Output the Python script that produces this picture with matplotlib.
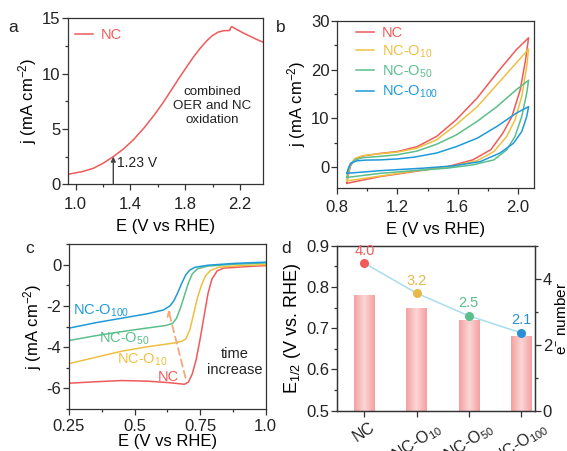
import numpy as np
import matplotlib
matplotlib.use("Agg")
import matplotlib.pyplot as plt
from matplotlib.colors import LinearSegmentedColormap
from matplotlib.ticker import MultipleLocator

plt.rcParams['font.family'] = ['Liberation Sans', 'DejaVu Sans']
plt.rcParams['axes.unicode_minus'] = False
plt.rcParams['mathtext.fontset'] = 'custom'
plt.rcParams['mathtext.rm'] = 'Liberation Sans'

RED = '#F05A5A'
YELLOW = '#EEC042'
GREEN = '#5BBE8C'
BLUE = '#1E9AD9'
AXC = '#333333'

# ---- panel a: LSV of NC (OER region) ----
a_E = [0.944, 1.05, 1.13, 1.2, 1.275, 1.35, 1.42, 1.5, 1.57, 1.64, 1.69, 1.75,
       1.81, 1.86, 1.91, 1.96, 2.0, 2.04, 2.08, 2.125, 2.13, 2.14, 2.175, 2.22,
       2.27, 2.32, 2.368]
a_j = [0.9, 1.15, 1.45, 1.9, 2.5, 3.2, 4.0, 5.1, 6.2, 7.4, 8.35, 9.5,
       10.6, 11.5, 12.3, 13.0, 13.45, 13.75, 13.88, 13.9, 14.1, 14.25, 14.0, 13.7,
       13.4, 13.1, 12.85]
a_mark_E = 1.275
a_mark_j = 2.5

# ---- panel b: CV loops (forward / reverse branches) ----
b_labels = ['NC', r'NC-O$\mathregular{_{10}}$', r'NC-O$\mathregular{_{50}}$',
            r'NC-O$\mathregular{_{100}}$']
b_fwd_E = [
    [0.865, 0.875, 0.89, 0.92, 0.97, 1.08, 1.2, 1.33, 1.46, 1.59, 1.73, 1.86, 1.99, 2.07],
    [0.865, 0.875, 0.89, 0.92, 0.97, 1.08, 1.2, 1.33, 1.46, 1.59, 1.73, 1.86, 1.99, 2.07],
    [0.865, 0.875, 0.89, 0.92, 0.97, 1.08, 1.2, 1.33, 1.46, 1.59, 1.73, 1.86, 1.99, 2.07],
    [0.865, 0.875, 0.89, 0.93, 0.99, 1.09, 1.2, 1.31, 1.46, 1.59, 1.73, 1.86, 1.99, 2.07],
]
b_fwd_j = [
    [-3.3, -1.5, 0.3, 1.7, 2.3, 2.8, 3.2, 4.2, 6.3, 9.7, 14.2, 19.3, 24.1, 26.5],
    [-2.8, -1.0, 0.6, 1.8, 2.35, 2.75, 3.1, 3.9, 5.6, 8.7, 12.4, 16.9, 21.4, 24.2],
    [-2.1, -0.6, 0.7, 1.5, 1.95, 2.2, 2.55, 3.3, 4.7, 6.6, 9.4, 12.4, 15.9, 17.8],
    [-1.25, -0.2, 0.8, 1.3, 1.45, 1.5, 1.7, 2.05, 2.9, 4.2, 5.95, 8.35, 11.1, 12.4],
]
b_rev_E = [
    [2.07, 2.05, 2.015, 1.96, 1.9, 1.82, 1.7, 1.53, 1.31, 1.09, 0.865],
    [2.07, 2.058, 2.025, 1.98, 1.925, 1.84, 1.73, 1.55, 1.31, 1.09, 0.865],
    [2.07, 2.058, 2.025, 1.98, 1.925, 1.84, 1.70, 1.53, 1.31, 1.09, 0.865],
    [2.07, 2.058, 2.025, 1.97, 1.88, 1.75, 1.57, 1.37, 1.09, 0.865],
]
b_rev_j = [
    [26.5, 22.0, 15.9, 10.4, 7.0, 3.6, 1.5, 0.1, -0.9, -1.9, -3.3],
    [24.2, 20.7, 14.5, 9.7, 6.3, 3.2, 1.35, 0.1, -0.8, -1.8, -2.8],
    [17.8, 15.2, 10.4, 6.3, 3.55, 1.5, 0.47, -0.2, -0.7, -1.25, -2.1],
    [12.4, 10.4, 7.3, 4.9, 2.9, 1.15, 0.27, -0.2, -0.7, -1.25],
]

# ---- panel c: ORR LSV ----
c_E = {
    'NC': [0.25, 0.35, 0.45, 0.55, 0.63, 0.69, 0.705, 0.72, 0.735, 0.75, 0.765,
           0.78, 0.795, 0.815, 0.84, 0.9, 0.95, 1.0],
    'O10': [0.25, 0.35, 0.45, 0.55, 0.65, 0.68, 0.695, 0.71, 0.725, 0.74, 0.755,
            0.77, 0.79, 0.82, 0.9, 1.0],
    'O50': [0.25, 0.35, 0.45, 0.55, 0.62, 0.645, 0.66, 0.675, 0.69, 0.705, 0.72,
            0.74, 0.78, 0.88, 1.0],
    'O100': [0.25, 0.35, 0.45, 0.55, 0.61, 0.635, 0.65, 0.665, 0.68, 0.695, 0.71,
             0.73, 0.78, 0.88, 1.0],
}
c_j = {
    'NC': [-5.75, -5.68, -5.62, -5.65, -5.72, -5.8, -5.7, -5.3, -4.6, -3.6, -2.5,
           -1.4, -0.7, -0.3, -0.17, -0.12, -0.08, -0.05],
    'O10': [-4.8, -4.5, -4.2, -3.98, -3.8, -3.72, -3.6, -3.2, -2.4, -1.6, -1.0,
            -0.55, -0.28, -0.13, -0.05, 0.0],
    'O50': [-3.68, -3.45, -3.25, -3.07, -2.95, -2.85, -2.6, -2.1, -1.5, -0.9, -0.45,
            -0.2, -0.07, 0.02, 0.08],
    'O100': [-3.08, -2.82, -2.6, -2.38, -2.2, -2.0, -1.75, -1.35, -0.9, -0.5, -0.27,
             -0.13, -0.03, 0.06, 0.12],
}

# ---- panel d: half-wave potential and electron number ----
d_samples = ['NC', r'NC-O$\mathregular{_{10}}$', r'NC-O$\mathregular{_{50}}$',
             r'NC-O$\mathregular{_{100}}$']
d_E12 = [0.78, 0.75, 0.72, 0.68]
d_n_pos = [4.47, 3.56, 2.875, 2.36]   # marker heights on the right axis
d_n_text = ['4.0', '3.2', '2.5', '2.1']
d_colors = [RED, '#E9B84A', GREEN, '#2A8FD6']

TICK_FS = 12
LABEL_FS = 12


def style_axes(ax, xpad=5):
    for s in ax.spines.values():
        s.set_color(AXC)
        s.set_linewidth(0.9)
    ax.tick_params(which='both', direction='out', color=AXC, width=0.9,
                   labelsize=TICK_FS, labelcolor='#222222')
    ax.tick_params(which='major', length=4)
    ax.tick_params(which='minor', length=2)
    ax.tick_params(axis='x', pad=xpad)
    ax.tick_params(axis='y', pad=1.5)


fig = plt.figure(figsize=(5.67, 4.51), dpi=100)

# panel a
ax = fig.add_axes([0.1199, 0.5914, 0.3439, 0.368])
ax.plot(a_E, a_j, color=RED, lw=1.1, label='NC')
ax.annotate('', xy=(a_mark_E, a_mark_j), xytext=(a_mark_E, 0),
            arrowprops=dict(arrowstyle='-|>', color='#444444', lw=1.0,
                            mutation_scale=7, shrinkA=0, shrinkB=0))
ax.text(1.30, 1.9, '1.23 V', fontsize=10, va='center', ha='left', color='#222222')
ax.text(2.0, 7.07, 'combined\nOER and NC\noxidation', fontsize=9.6,
        ha='center', va='center', linespacing=1.2, color='#222222')
ax.set_xlim(0.944, 2.368)
ax.set_ylim(0, 15)
ax.xaxis.set_minor_locator(MultipleLocator(0.2))
ax.yaxis.set_major_locator(MultipleLocator(5))
ax.yaxis.set_minor_locator(MultipleLocator(2.5))
ax.set_xticks([1.0, 1.4, 1.8, 2.2], ['1.0', '1.4', '1.8', '2.2'])
style_axes(ax)
ax.set_xlabel('E (V vs RHE)', fontsize=LABEL_FS, labelpad=5)
ax.set_ylabel(r'j (mA cm$\mathregular{^{-2}}$)', fontsize=LABEL_FS, labelpad=2)
ax.legend(loc='upper left', frameon=False, fontsize=10.5, handlelength=1.3,
          handletextpad=0.5, borderaxespad=0.25, bbox_to_anchor=(-0.015, 1.0),
          labelcolor='linecolor')

# panel b
ax = fig.add_axes([0.5944, 0.5838, 0.3474, 0.3703])
for k, col in enumerate([RED, YELLOW, GREEN, BLUE]):
    ax.plot(b_fwd_E[k] + b_rev_E[k][1:], b_fwd_j[k] + b_rev_j[k][1:],
            color=col, lw=1.1, label=b_labels[k])
ax.set_xlim(0.8, 2.106)
ax.set_ylim(-4.2, 30)
ax.xaxis.set_minor_locator(MultipleLocator(0.2))
ax.yaxis.set_major_locator(MultipleLocator(10))
ax.yaxis.set_minor_locator(MultipleLocator(5))
ax.set_xticks([0.8, 1.2, 1.6, 2.0], ['0.8', '1.2', '1.6', '2.0'])
style_axes(ax)
ax.set_xlabel('E (V vs RHE)', fontsize=LABEL_FS, labelpad=5)
ax.set_ylabel(r'j (mA cm$\mathregular{^{-2}}$)', fontsize=LABEL_FS, labelpad=2)
ax.legend(loc='upper left', frameon=False, fontsize=10.5, handlelength=1.25,
          handletextpad=0.5, labelspacing=0.25, borderaxespad=0.3,
          bbox_to_anchor=(0.045, 1.03), labelcolor='linecolor')

# panel c
ax = fig.add_axes([0.1217, 0.0931, 0.3469, 0.3659])
for key, col in zip(['NC', 'O10', 'O50', 'O100'], [RED, YELLOW, GREEN, BLUE]):
    ax.plot(c_E[key], c_j[key], color=col, lw=1.1)
ax.annotate('', xy=(0.626, -2.05), xytext=(0.697, -5.62),
            arrowprops=dict(arrowstyle='->', color='#F5A77A', lw=1.3,
                            linestyle=(0, (4, 2.5)), mutation_scale=9))
ax.text(0.265, -2.25, r'NC-O$\mathregular{_{100}}$', color=BLUE, fontsize=10.5,
        va='center', ha='left')
ax.text(0.364, -3.6, r'NC-O$\mathregular{_{50}}$', color=GREEN, fontsize=10.5,
        va='center', ha='left')
ax.text(0.432, -4.6, r'NC-O$\mathregular{_{10}}$', color=YELLOW, fontsize=10.5,
        va='center', ha='left')
ax.text(0.59, -5.45, 'NC', color=RED, fontsize=10.5, va='center', ha='left')
ax.text(0.883, -4.73, 'time\nincrease', color='#222222', fontsize=10.5,
        ha='center', va='center', linespacing=1.2)
ax.set_xlim(0.25, 1.0)
ax.set_ylim(-7, 1)
ax.set_xticks([0.25, 0.5, 0.75, 1.0], ['0.25', '0.5', '0.75', '1.0'])
ax.xaxis.set_minor_locator(MultipleLocator(0.125))
ax.set_yticks([0, -2, -4, -6], ['0', '-2', '-4', '-6'])
ax.yaxis.set_minor_locator(MultipleLocator(1))
style_axes(ax, xpad=3)
ax.set_xlabel('E (V vs RHE)', fontsize=LABEL_FS, labelpad=0)
ax.set_ylabel(r'j (mA cm$\mathregular{^{-2}}$)', fontsize=LABEL_FS, labelpad=2)

# panel d
ax = fig.add_axes([0.5944, 0.0894, 0.3492, 0.3659])
xpos = np.arange(len(d_samples))
bw = 0.39
bars = ax.bar(xpos, np.array(d_E12) - 0.5, bottom=0.5, width=bw,
              facecolor='none', edgecolor='none')
cmap = LinearSegmentedColormap.from_list('pinkbar', ['#F5A0A0', '#FCD6D6', '#F5A0A0'])
grad = np.linspace(0, 1, 64).reshape(1, -1)
for xi, h, rect in zip(xpos, d_E12, bars):
    im = ax.imshow(grad, cmap=cmap, aspect='auto', interpolation='bicubic',
                   extent=[xi - bw / 2, xi + bw / 2, 0.5, h], zorder=1)
    im.set_clip_path(rect)
ax.set_xlim(-0.524, 3.27)
ax.set_ylim(0.5, 0.9)
ax.yaxis.set_major_locator(MultipleLocator(0.1))
ax.yaxis.set_minor_locator(MultipleLocator(0.05))
ax.set_xticks(xpos)
ax.set_xticklabels(d_samples, rotation=33, ha='center', va='top')
style_axes(ax)
ax.tick_params(axis='x', pad=2, labelsize=11.5)
ax.tick_params(right=False, which='both')
ax.set_ylabel(r'E$\mathregular{_{1/2}}$ (V vs. RHE)', fontsize=13, labelpad=2)

ax2 = ax.twinx()
ax2.plot(xpos, d_n_pos, color='#A9DCEF', lw=1.1, zorder=2)
for xi, yv, t, col in zip(xpos, d_n_pos, d_n_text, d_colors):
    ax2.plot(xi, yv, 'o', ms=5.5, mfc=col, mec=col, zorder=3)
    ax2.annotate(t, (xi, yv), xytext=(0, 9), textcoords='offset points',
                 ha='center', va='center', color=col, fontsize=10.5)
ax2.set_ylim(0, 5)
ax2.yaxis.set_major_locator(MultipleLocator(2))
ax2.yaxis.set_minor_locator(MultipleLocator(1))
style_axes(ax2)
ax2.set_ylabel(r'e$\mathregular{^{-}}$ number', fontsize=11)
ax2.yaxis.set_label_coords(1.095, 0.56)

# panel letters
for lab, px, py in [('a', 13, 27), ('b', 281, 27), ('c', 30, 248), ('d', 286, 248)]:
    fig.text(px / 567, 1 - py / 451, lab, fontsize=12.5, ha='center', va='center',
             color='#222222')

fig.savefig('out.png', dpi=100)
